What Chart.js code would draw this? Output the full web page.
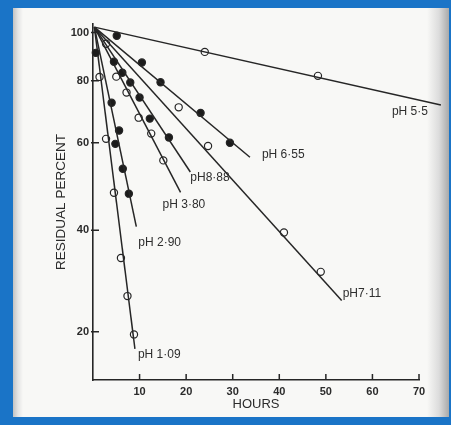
<!DOCTYPE html>
<html>
<head>
<meta charset="utf-8">
<script src="https://cdn.jsdelivr.net/npm/chart.js@4"></script>
<style>
  body { margin: 0; background: #1a74c7; width: 451px; height: 425px; overflow: hidden; position: relative; }
  .paper {
    position: absolute; left: 13px; top: 8px; width: 436px; height: 409px;
    background: linear-gradient(to right, #c2c2c2 0px, #e4e4e4 5px, #f8f8f6 10px, #f8f8f6 414px, #dcdcdc 426px, #a9a9a9 436px);
  }
  #chart { position: absolute; left: 0; top: 0; }
</style>
</head>
<body>
<div class="paper"></div>
<canvas id="chart" width="451" height="425"></canvas>
<script>
// curves, from the flattest to the steepest
var phLabels = ["pH 5·5", "pH 6·55", "pH7·11", "pH8·88", "pH 3·80", "pH 2·90", "pH 1·09"];
var filledMarks = [false, true, false, true, false, true, false];

// measured points
var pointHours = [
  [24.0, 48.3, 71.9],
  [5.1, 10.5, 14.5, 23.1, 29.4],
  [18.4, 24.7, 41.0, 48.9],
  [4.5, 6.3, 8.0, 10.0, 12.2, 16.3],
  [2.8, 5.0, 7.2, 9.8, 12.5, 15.1],
  [0.6, 4.0, 5.6, 4.8, 6.4, 7.7],
  [1.4, 2.8, 4.5, 6.0, 7.4, 8.8]
];
var pointValues = [
  [91.4, 81.8, 73.9],
  [98.5, 87.0, 79.4, 68.9, 60.0],
  [70.7, 59.1, 39.6, 33.0],
  [87.3, 83.0, 79.3, 74.0, 67.1, 61.5],
  [94.9, 81.5, 75.7, 67.4, 62.6, 55.3],
  [91.0, 72.2, 63.5, 59.7, 53.2, 47.4],
  [81.4, 61.1, 47.6, 35.2, 29.5, 24.7]
];

// fitted lines: all start at the same point, each has its own end
var lineStartHours = 0.3;
var lineStartValue = 102.5;
var lineEndHours = [74.7, 33.7, 53.4, 20.9, 18.8, 9.3, 9.0];
var lineEndValues = [71.5, 56.1, 28.9, 52.4, 47.7, 40.7, 23.1];

// axis ticks
var xTickValues = [10, 20, 30, 40, 50, 60, 70];
var yTickValues = [25, 40, 60, 80, 100];
var yTickLabels = ["20", "40", "60", "80", "100"];

// where each curve name sits, relative to the end of its line (px)
var labelOffsets = [[-49, 7], [12, -3], [1, -7], [0, 6], [-18, 12], [2, 16], [3, 6]];

var ink = "#262626";

document.addEventListener("DOMContentLoaded", function () {
  var ctx = document.getElementById("chart").getContext("2d");

  var datasets = [];
  for (var i = 0; i < phLabels.length; i++) {
    datasets.push({
      label: phLabels[i] + " fit",
      data: [
        { x: lineStartHours, y: lineStartValue },
        { x: lineEndHours[i], y: lineEndValues[i] }
      ],
      showLine: true,
      borderColor: ink,
      borderWidth: 1.5,
      pointRadius: 0,
      clip: false
    });
    var pts = [];
    for (var j = 0; j < pointHours[i].length; j++) {
      pts.push({ x: pointHours[i][j], y: pointValues[i][j] });
    }
    datasets.push({
      label: phLabels[i],
      data: pts,
      showLine: false,
      pointRadius: 3.6,
      pointBorderWidth: 1.2,
      pointBorderColor: ink,
      pointBackgroundColor: filledMarks[i] ? "#1b1b1b" : "#fbfbfa",
      clip: false
    });
  }

  // ticks point into the plot, so draw them by hand
  var inwardTicks = {
    id: "inwardTicks",
    afterDraw: function (chart) {
      var c = chart.ctx, xs = chart.scales.x, ys = chart.scales.y;
      c.save();
      c.strokeStyle = ink;
      c.lineWidth = 1.5;
      c.beginPath();
      xTickValues.forEach(function (v) {
        var px = xs.getPixelForValue(v);
        c.moveTo(px, xs.top);
        c.lineTo(px, xs.top - 6);
      });
      yTickValues.forEach(function (v) {
        var py = ys.getPixelForValue(v);
        c.moveTo(ys.right - 2, py);
        c.lineTo(ys.right + 6, py);
      });
      c.stroke();
      c.restore();
    }
  };

  var curveNames = {
    id: "curveNames",
    afterDatasetsDraw: function (chart) {
      var c = chart.ctx, xs = chart.scales.x, ys = chart.scales.y;
      c.save();
      c.fillStyle = "#2e2e2e";
      c.font = "12px 'Liberation Sans', Arial, sans-serif";
      c.textAlign = "left";
      c.textBaseline = "middle";
      for (var i = 0; i < phLabels.length; i++) {
        var px = xs.getPixelForValue(lineEndHours[i]) + labelOffsets[i][0];
        var py = ys.getPixelForValue(lineEndValues[i]) + labelOffsets[i][1];
        c.fillText(phLabels[i], px, py);
      }
      c.restore();
    }
  };

  new Chart(ctx, {
    type: "scatter",
    data: { datasets: datasets },
    options: {
      responsive: false,
      animation: false,
      layout: { padding: { left: 0, top: 24, right: 32, bottom: 0 } },
      plugins: { legend: { display: false }, tooltip: { enabled: false } },
      scales: {
        x: {
          type: "linear",
          min: 0,
          max: 70,
          afterBuildTicks: function (scale) {
            scale.ticks = xTickValues.map(function (v) { return { value: v }; });
          },
          afterFit: function (scale) { scale.height = 45; },
          ticks: {
            color: "#2b2b2b",
            padding: 5,
            maxRotation: 0,
            font: { family: "'Liberation Sans', Arial, sans-serif", size: 11, weight: "bold" }
          },
          grid: { display: false, drawTicks: false },
          border: { display: true, color: ink, width: 1.6 },
          title: {
            display: true,
            text: "HOURS",
            color: "#2b2b2b",
            padding: { top: 0, bottom: 13 },
            font: { family: "'Liberation Sans', Arial, sans-serif", size: 13 }
          }
        },
        y: {
          type: "logarithmic",
          min: 20,
          max: 104,
          afterBuildTicks: function (scale) {
            scale.ticks = yTickValues.map(function (v) { return { value: v }; });
          },
          afterFit: function (scale) { scale.width = 93; },
          ticks: {
            color: "#2b2b2b",
            padding: 4,
            font: { family: "'Liberation Sans', Arial, sans-serif", size: 11, weight: "bold" },
            callback: function (value, index) { return yTickLabels[index]; }
          },
          grid: { display: false, drawTicks: false },
          border: { display: true, color: ink, width: 1.6 },
          title: {
            display: true,
            text: "RESIDUAL PERCENT",
            color: "#2b2b2b",
            padding: { top: 53, bottom: 0 },
            font: { family: "'Liberation Sans', Arial, sans-serif", size: 13.5 }
          }
        }
      }
    },
    plugins: [inwardTicks, curveNames]
  });
});
</script>
</body>
</html>
